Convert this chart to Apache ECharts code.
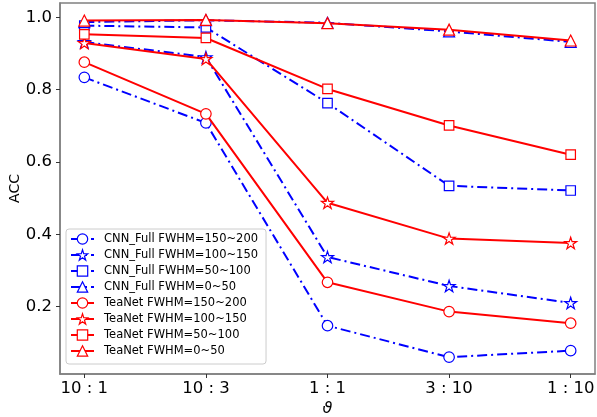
<!DOCTYPE html>
<html>
<head>
<meta charset="utf-8">
<script src="https://cdn.jsdelivr.net/npm/echarts@6/dist/echarts.min.js"></script>
<style>
html,body{margin:0;padding:0;background:#fff;}
#c{width:597px;height:417px;}
</style>
</head>
<body>
<div id="c"></div>
<script>
// ---- data ----
const thetaLabels = ['10 : 1', '10 : 3', '1 : 1', '3 : 10', '1 : 10'];
const yTicks = [0.2, 0.4, 0.6, 0.8, 1.0];

const cnn150_200 = [0.834, 0.708, 0.147, 0.060, 0.078];
const cnn100_150 = [0.932, 0.890, 0.337, 0.257, 0.210];
const cnn50_100  = [0.977, 0.972, 0.763, 0.534, 0.521];
const cnn0_50    = [0.987, 0.992, 0.985, 0.961, 0.932];
const tea150_200 = [0.876, 0.733, 0.267, 0.186, 0.154];
const tea100_150 = [0.929, 0.885, 0.487, 0.388, 0.376];
const tea50_100  = [0.953, 0.943, 0.802, 0.701, 0.620];
const tea0_50    = [0.991, 0.993, 0.984, 0.966, 0.936];

const seriesNames = [
  'CNN_Full FWHM=150~200', 'CNN_Full FWHM=100~150', 'CNN_Full FWHM=50~100', 'CNN_Full FWHM=0~50',
  'TeaNet FWHM=150~200', 'TeaNet FWHM=100~150', 'TeaNet FWHM=50~100', 'TeaNet FWHM=0~50'
];
const seriesValues = [cnn150_200, cnn100_150, cnn50_100, cnn0_50, tea150_200, tea100_150, tea50_100, tea0_50];

// ---- styling ----
function starPath() {
  const pts = [];
  for (let i = 0; i < 10; i++) {
    const r = i % 2 === 0 ? 1 : 0.382;
    const a = -Math.PI / 2 + i * Math.PI / 5;
    pts.push((r * Math.cos(a)).toFixed(4) + ' ' + (r * Math.sin(a)).toFixed(4));
  }
  return 'path://M' + pts.join(' L') + ' Z';
}
const STAR = starPath();
const shapes = ['circle', STAR, 'rect', 'triangle'];
const shapeSize = [10.5, 12, 9.5, 11];

const series = seriesNames.map((name, idx) => {
  const isCNN = idx < 4;
  const color = isCNN ? '#0000ff' : '#ff0000';
  const k = idx % 4;
  return {
    name: name,
    type: 'line',
    data: seriesValues[idx].map((v, i) => [i, v]),
    symbol: shapes[k],
    symbolSize: shapeSize[k],
    symbolKeepAspect: true,
    showAllSymbol: true,
    animation: false,
    z: isCNN ? 2 : 3,
    lineStyle: {
      color: color,
      width: 2,
      type: isCNN ? [10, 4, 2, 4] : 'solid'
    },
    itemStyle: {
      color: '#ffffff',
      borderColor: color,
      borderWidth: 1.2
    },
    emphasis: { disabled: true }
  };
});

const chart = echarts.init(document.getElementById('c'), null, { renderer: 'canvas' });
const axisColor = '#808080';
const font = 'DejaVu Sans';

chart.setOption({
  animation: false,
  backgroundColor: '#ffffff',
  grid: {
    left: 60, right: 2, top: 3, bottom: 43,
    containLabel: false,
    outerBoundsMode: 'none',
    show: true, borderColor: axisColor, borderWidth: 1.5, backgroundColor: 'transparent'
  },
  xAxis: {
    type: 'value',
    min: -0.2, max: 4.2,
    name: 'ϑ',
    nameLocation: 'middle',
    nameGap: 27,
    nameMoveOverlap: false,
    nameTextStyle: { fontFamily: font, fontStyle: 'italic', fontSize: 16, color: '#000' },
    axisLine: { show: true, onZero: false, lineStyle: { color: axisColor, width: 1.5 } },
    axisTick: { show: true, length: 4, customValues: [0, 1, 2, 3, 4], lineStyle: { color: '#333', width: 1 } },
    axisLabel: {
      customValues: [0, 1, 2, 3, 4],
      formatter: v => thetaLabels[Math.round(v)],
      fontFamily: font, fontSize: 16.5, color: '#000', margin: 6
    },
    splitLine: { show: false }
  },
  yAxis: {
    type: 'value',
    min: 0.0134, max: 1.0397,
    name: 'ACC',
    nameLocation: 'middle',
    nameGap: 38,
    nameMoveOverlap: false,
    nameTextStyle: { fontFamily: font, fontSize: 14, color: '#000' },
    axisLine: { show: true, onZero: false, lineStyle: { color: axisColor, width: 1.5 } },
    axisTick: { show: true, length: 4, customValues: yTicks, lineStyle: { color: '#333', width: 1 } },
    axisLabel: {
      customValues: yTicks,
      formatter: v => v.toFixed(1),
      fontFamily: font, fontSize: 16.5, color: '#000', margin: 8
    },
    splitLine: { show: false }
  },
  legend: {
    show: true,
    orient: 'vertical',
    left: 66, top: 229,
    padding: [4, 8, 7, 4],
    itemGap: 4,
    itemWidth: 23,
    itemHeight: 13,
    backgroundColor: 'rgba(255,255,255,0.8)',
    borderColor: '#cccccc',
    borderWidth: 1,
    borderRadius: 3,
    itemStyle: { borderWidth: 1.2 },
    textStyle: { fontFamily: font, fontSize: 11.5, color: '#000', padding: [0, 0, 0, 5] },
    data: seriesNames
  },
  series: series
});
</script>
</body>
</html>
